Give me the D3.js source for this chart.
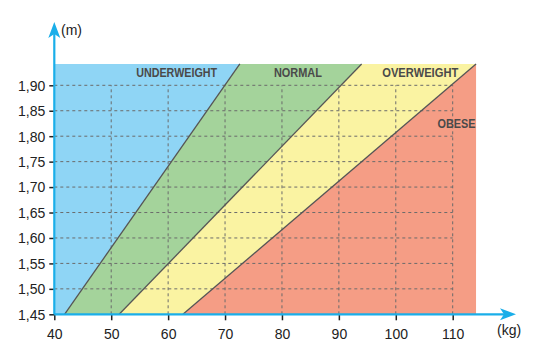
<!DOCTYPE html>
<html><head><meta charset="utf-8">
<script src="https://cdn.jsdelivr.net/npm/d3@7"></script>
<style>body{margin:0;background:#fff}svg{display:block}</style>
</head><body><svg id="c" width="540" height="360"></svg>
<script>
// Data
const xTicks = [40,50,60,70,80,90,100,110];
const yTicks = [1.45,1.50,1.55,1.60,1.65,1.70,1.75,1.80,1.85,1.90];
const xMin = 40, xMax = 114.1, yMin = 1.45, yMax = 1.942;
// boundary lines: weight at bottom (1.45 m) and at top (yMax)
const boundaryNames = ["underweight/normal","normal/overweight","overweight/obese"];
const boundaryBottom = [41.8, 51.4, 62.6];
const boundaryTop = [72.6, 94.0, 114.1];
const zones = ["UNDERWEIGHT","NORMAL","OVERWEIGHT","OBESE"];
const zoneColors = ["#8fd5f5","#a4d39b","#faf3a2","#f59d85"];
const labelPos = [[61.5,1.916],[82.8,1.916],[104.3,1.916],[114.0,1.817]];

const svg = d3.select("#c");
const x = d3.scaleLinear().domain([40,110]).range([54.3,452.7]);
const y = d3.scaleLinear().domain([1.45,1.90]).range([314.3,85.3]);

// zone polygons
const b = boundaryBottom, t = boundaryTop;
const polys = [
  [[xMin,yMin],[b[0],yMin],[t[0],yMax],[xMin,yMax]],
  [[b[0],yMin],[b[1],yMin],[t[1],yMax],[t[0],yMax]],
  [[b[1],yMin],[b[2],yMin],[t[2],yMax],[t[1],yMax]],
  [[b[2],yMin],[xMax,yMin],[xMax,yMax],[t[2],yMax]]
];
const line = d3.line().x(d=>x(d[0])).y(d=>y(d[1]));
svg.selectAll("path.zone").data(polys).join("path").attr("class","zone")
  .attr("d", d=>line(d)+"Z").attr("fill",(d,i)=>zoneColors[i]);

// grid
const g = svg.append("g").attr("stroke","#6b6b6b").attr("stroke-width",1).attr("stroke-dasharray","3,3");
g.selectAll("line.v").data(xTicks.slice(1)).join("line")
  .attr("x1",d=>x(d)).attr("x2",d=>x(d)).attr("y1",y(1.45)).attr("y2",y(1.90));
g.selectAll("line.h").data(yTicks.slice(1)).join("line")
  .attr("x1",x(40)).attr("x2",x(110)).attr("y1",d=>y(d)).attr("y2",d=>y(d));

// boundary lines
svg.selectAll("line.b").data(boundaryBottom).join("line").attr("class","b")
  .attr("x1",d=>x(d)).attr("y1",y(yMin)).attr("x2",(d,i)=>x(boundaryTop[i])).attr("y2",y(yMax))
  .attr("stroke","#555").attr("stroke-width",1.3);

// zone labels
const widths = [81,48,76,38];
svg.selectAll("text.z").data(zones).join("text").attr("class","z")
  .attr("x",(d,i)=>x(labelPos[i][0])).attr("y",(d,i)=>y(labelPos[i][1]))
  .attr("text-anchor",(d,i)=>i===3?"end":"middle")
  .attr("textLength",(d,i)=>widths[i]).attr("lengthAdjust","spacingAndGlyphs")
  .attr("font-family","Liberation Sans, Arial, sans-serif").attr("font-weight","bold")
  .attr("font-size",13).attr("fill","#4a4a4a").text(d=>d);

// axes
const axisColor = "#1aaee9";
const xAxis = d3.axisBottom(x).tickValues(xTicks).tickSize(6).tickFormat(d3.format("d"));
const yAxis = d3.axisLeft(y).tickValues(yTicks).tickSize(5).tickFormat(d=>d3.format(".2f")(d).replace(".",","));
const ax = svg.append("g").attr("transform",`translate(0,${y(1.45)})`).call(xAxis);
const ay = svg.append("g").attr("transform",`translate(${x(40)},0)`).call(yAxis);
[ax,ay].forEach(a=>{
  a.select(".domain").remove();
  a.selectAll(".tick line").attr("stroke","#222").attr("stroke-width",1.5);
  a.selectAll("text").attr("font-family","Liberation Sans, Arial, sans-serif").attr("font-size",14).attr("fill","#222");
});
ax.selectAll("text").attr("dy","1.15em");
ay.selectAll("text").attr("x",-9).attr("dy","0.35em");

// axis lines with arrows
svg.append("line").attr("x1",x(40)).attr("y1",y(1.45)).attr("x2",506).attr("y2",y(1.45))
  .attr("stroke",axisColor).attr("stroke-width",2.2);
svg.append("path").attr("d",`M516,${y(1.45)} L500,${y(1.45)-6} L504,${y(1.45)} L500,${y(1.45)+6}Z`).attr("fill",axisColor);
svg.append("line").attr("x1",x(40)).attr("y1",y(1.45)).attr("x2",x(40)).attr("y2",32)
  .attr("stroke",axisColor).attr("stroke-width",2.2);
svg.append("path").attr("d",`M${x(40)},22 L${x(40)-6},38 L${x(40)},34 L${x(40)+6},38Z`).attr("fill",axisColor);

svg.append("text").attr("x",61).attr("y",35).attr("font-family","Liberation Sans, Arial, sans-serif")
  .attr("font-size",14).attr("fill","#222").text("(m)");
svg.append("text").attr("x",497).attr("y",335).attr("font-family","Liberation Sans, Arial, sans-serif")
  .attr("font-size",14).attr("fill","#222").text("(kg)");
</script></body></html>
